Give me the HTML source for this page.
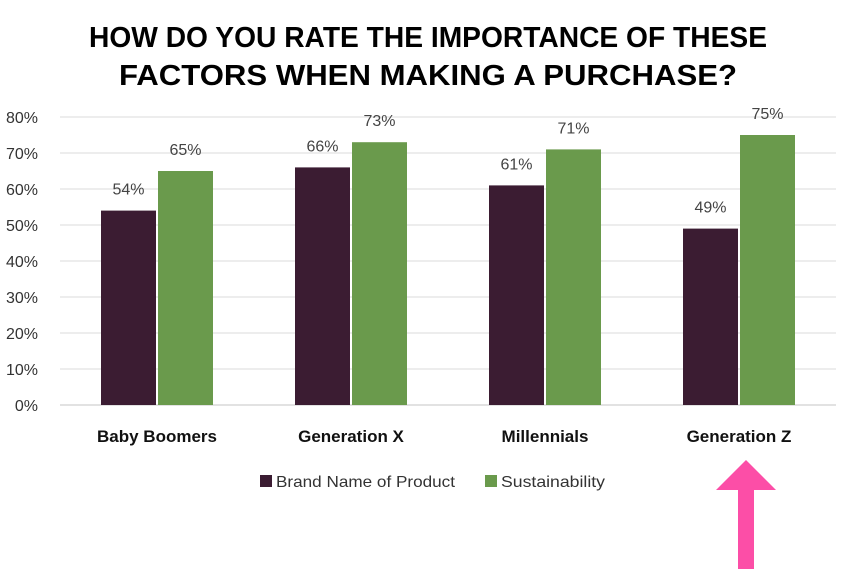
<!DOCTYPE html>
<html><head><meta charset="utf-8"><style>
body{margin:0;background:#fff;width:854px;height:569px;overflow:hidden}
svg{display:block;font-family:"Liberation Sans",sans-serif}
</style></head><body>
<svg id="c" width="854" height="569">
<text x="428" y="47" text-anchor="middle" font-size="29" font-weight="bold" textLength="678" lengthAdjust="spacingAndGlyphs" fill="#000">HOW DO YOU RATE THE IMPORTANCE OF THESE</text>
<text x="428" y="85" text-anchor="middle" font-size="29" font-weight="bold" textLength="618" lengthAdjust="spacingAndGlyphs" fill="#000">FACTORS WHEN MAKING A PURCHASE?</text>
<g id="grid"></g><g id="bars"></g><g id="labels"></g>
<g>
<rect x="260" y="475" width="12" height="12" fill="#3b1c32"/>
<text x="276" y="487" font-size="16" fill="#333" textLength="179" lengthAdjust="spacingAndGlyphs">Brand Name of Product</text>
<rect x="485" y="475" width="12" height="12" fill="#6a9a4c"/>
<text x="501" y="487" font-size="16" fill="#333" textLength="104" lengthAdjust="spacingAndGlyphs">Sustainability</text>
</g>
<polygon points="746,460 776,490 754,490 754,569 738,569 738,490 716,490" fill="#fc4ea7"/>
</svg>
<script>
const categories=["Baby Boomers","Generation X","Millennials","Generation Z"];
const brandValues=[54,66,61,49];
const sustainValues=[65,73,71,75];
const tickValues=[0,10,20,30,40,50,60,70,80];
const ns="http://www.w3.org/2000/svg";
const y0=405,pxPer=3.6,left=60,right=836,catStart=60,catW=194;
function y(v){return y0-v*pxPer;}
function cx(i){return catStart+catW*(i+0.5);}
function mk(t,a,p){const e=document.createElementNS(ns,t);for(const k in a)e.setAttribute(k,a[k]);p.appendChild(e);return e;}
const grid=document.getElementById('grid'),bars=document.getElementById('bars'),labels=document.getElementById('labels');
tickValues.forEach(v=>{
 const l=mk('line',{x1:left,x2:right,y1:y(v),y2:y(v),stroke:v===0?'#d0d0d0':'#e2e2e2','stroke-width':1.3},grid);
 
 
 const t=mk('text',{x:38,y:y(v)+6,'text-anchor':'end','font-size':16,fill:'#333'},grid);
 t.textContent=v+'%';
 
 
});
categories.forEach((c,i)=>{
 const series=[[brandValues[i],'#3b1c32',-1],[sustainValues[i],'#6a9a4c',1]];
 series.forEach(([v,col,s])=>{
  const x=s<0?cx(i)-56:cx(i)+1;
  const r=mk('rect',{x:x,y:y(v),width:55,height:v*pxPer,fill:col},bars);
  
  
  const t=mk('text',{x:x+27.5,y:y(v)-16,'text-anchor':'middle','font-size':16,fill:'#444'},labels);
  t.textContent=v+'%';
  
  
 });
 const t=mk('text',{x:cx(i),y:442,'text-anchor':'middle','font-size':17,'font-weight':'bold',fill:'#111'},labels);
 t.textContent=c;
 
 
});
</script>
</body></html>
